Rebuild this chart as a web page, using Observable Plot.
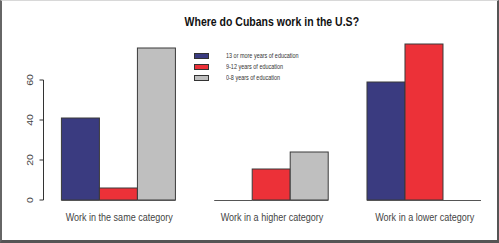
<!DOCTYPE html>
<html><head><meta charset="utf-8">
<script src="https://cdn.jsdelivr.net/npm/d3@7"></script>
<script src="https://cdn.jsdelivr.net/npm/@observablehq/plot@0.6"></script>
<style>
html,body{margin:0;padding:0;background:#fff}
#wrap{position:relative;width:499px;height:243px;overflow:hidden;font-family:"Liberation Sans",Arial,sans-serif}
#chart{position:absolute;left:0;top:0}
#title{position:absolute;left:44px;right:0;top:15px;line-height:14px;text-align:center;font-weight:bold;font-size:12.5px;color:#111}
#title span{display:inline-block;transform:scaleX(0.84);transform-origin:center}
#legend{position:absolute;left:194px;top:50px;font-size:7px;color:#333}
.item{display:flex;align-items:center;height:11px}
.item span{display:inline-block;transform:scaleX(0.78);transform-origin:left center;white-space:nowrap}
.sw{width:15px;height:6px;border:1px solid #333;box-sizing:border-box;margin-right:17px;flex:none}
#border{position:absolute;left:0;top:0;width:499px;height:243px;border-left:2px solid #666;border-top:1px solid #d8d8d8;border-right:2px solid #555;border-bottom:3px solid #555;box-sizing:border-box;pointer-events:none}
</style></head>
<body><div id="wrap"><div id="chart"></div><div id="title"></div><div id="legend"></div><div id="border"></div></div>
<script>
const categories = ["Work in the same category", "Work in a higher category", "Work in a lower category"];
const series = ["13 or more years of education", "9-12 years of education", "0-8 years of education"];
const high = [41, 0, 59];
const mid = [6, 15.5, 78];
const low = [76, 24, 0];
const colors = ["#3a3b80", "#ec3138", "#bfbfbf"];
const yTicks = [0, 20, 40, 60];
const title = "Where do Cubans work in the U.S?";

const values = [high, mid, low];
const data = [];
categories.forEach((c, i) => series.forEach((s, k) => data.push({category: c, series: s, value: values[k][i]})));

const marginLeft = 44;
const squeeze = 0.82;
const chart = Plot.plot({
  width: 499,
  height: 243,
  marginLeft,
  marginRight: 0,
  marginTop: 40,
  marginBottom: 43,
  style: {fontFamily: "'Liberation Sans', Arial, sans-serif", background: "transparent", overflow: "visible"},
  fx: {domain: categories, paddingInner: 0.25, paddingOuter: 0.114, round: false},
  x: {domain: series, padding: 0, axis: null},
  y: {domain: [0, 80], axis: null},
  color: {domain: series, range: colors},
  marks: [
    Plot.barY(data, {fx: "category", x: "series", y: "value", fill: "series", stroke: "#3a3a3a", strokeWidth: 1}),
    Plot.tickY(data, {fx: "category", x: "series", y: () => 0, stroke: "#555", strokeWidth: 1}),
    Plot.axisFx({anchor: "bottom", tickSize: 0, tickPadding: 13, label: null, fontSize: 11, fill: "#444"})
  ]
});
document.getElementById("chart").appendChild(chart);
const svg = d3.select(chart);
const ys = chart.scale("y");
const axisX = marginLeft - 0.5;
const axis = svg.append("g").attr("stroke", "#333").attr("stroke-width", 1).attr("fill", "none");
// axis line from first to last tick (R style)
axis.append("line")
  .attr("x1", axisX).attr("x2", axisX)
  .attr("y1", ys.apply(yTicks[0])).attr("y2", ys.apply(yTicks[yTicks.length - 1]));
// tick marks
axis.selectAll("line.t").data(yTicks).join("line").attr("class", "t")
  .attr("x1", axisX - 4).attr("x2", axisX)
  .attr("y1", d => ys.apply(d)).attr("y2", d => ys.apply(d));
// rotated tick labels
svg.append("g").selectAll("text").data(yTicks).join("text")
  .attr("transform", d => `translate(${marginLeft - 14},${ys.apply(d)}) rotate(-90) scale(1,${squeeze})`)
  .attr("text-anchor", "middle").attr("dominant-baseline", "central")
  .attr("font-size", 10.5).attr("fill", "#444")
  .text(d => d);
// narrower category labels
svg.selectAll('[aria-label^="fx-axis"] text').each(function() {
  const w = this.getComputedTextLength();
  this.setAttribute("textLength", w * squeeze);
  this.setAttribute("lengthAdjust", "spacingAndGlyphs");
});

document.getElementById("title").append(Object.assign(document.createElement("span"), {textContent: title}));
const legend = d3.select("#legend");
series.forEach((s, k) => {
  const it = legend.append("div").attr("class", "item");
  it.append("div").attr("class", "sw").style("background", colors[k]);
  it.append("span").text(s);
});
</script>
</body></html>
